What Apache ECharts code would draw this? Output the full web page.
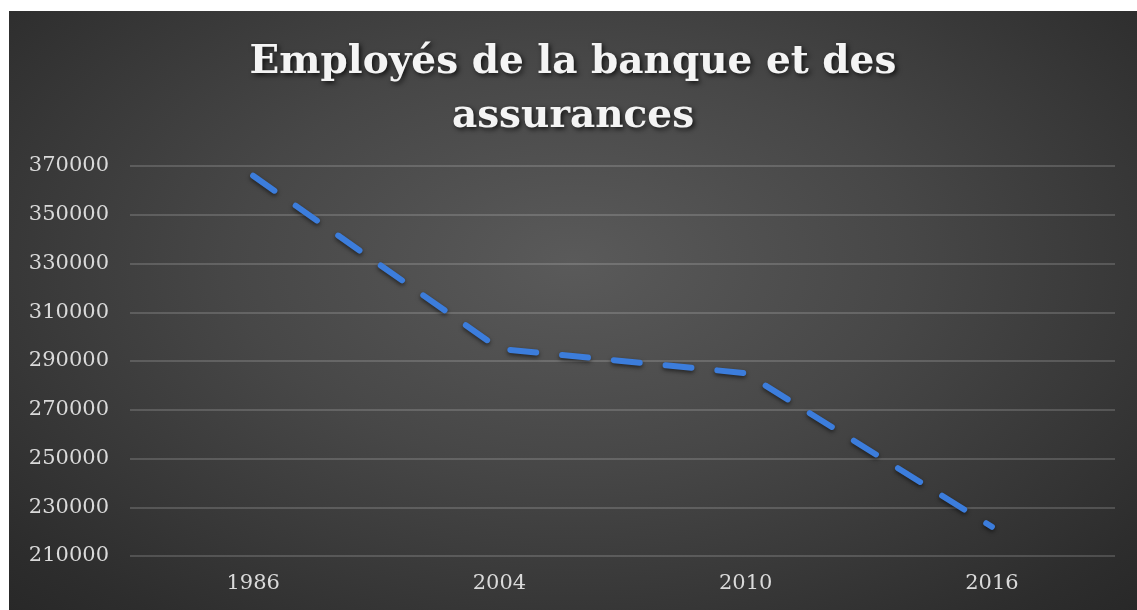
<!DOCTYPE html>
<html>
<head>
<meta charset="utf-8">
<script src="https://cdn.jsdelivr.net/npm/echarts@6/dist/echarts.min.js"></script>
<style>
  html, body { margin: 0; padding: 0; background: #ffffff; }
  #chart {
    position: absolute; left: 9px; top: 11px; width: 1128px; height: 599px;
    background: radial-gradient(ellipse 75% 85% at 50% 42%, #5a5a5a 0%, #474747 40%, #2d2d2d 85%, #262626 100%);
  }
</style>
</head>
<body>
<div id="chart"></div>
<script>
// Employees in banking and insurance, by year
const years = ['1986', '2004', '2010', '2016'];
const employees = [366000, 295000, 285000, 222000];
const yMin = 210000;
const yMax = 370000;
const yStep = 20000;
const titleText = 'Employés de la banque et des\nassurances';

const chart = echarts.init(document.getElementById('chart'));
chart.setOption({
  backgroundColor: 'transparent',
  animation: false,
  title: {
    text: titleText,
    left: 'center',
    top: 20,
    textStyle: {
      fontFamily: 'DejaVu Serif',
      fontWeight: 'bold',
      fontSize: 39,
      lineHeight: 54,
      color: '#f4f4f4',
      textShadowColor: 'rgba(0,0,0,0.75)',
      textShadowBlur: 5,
      textShadowOffsetX: 2,
      textShadowOffsetY: 2
    }
  },
  grid: { left: 121, right: 22, top: 155, bottom: 54 },
  xAxis: {
    type: 'category',
    data: years,
    boundaryGap: true,
    axisLine: { show: false },
    axisTick: { show: false },
    axisLabel: {
      margin: 17,
      fontFamily: 'DejaVu Serif',
      fontSize: 21,
      color: '#dadada'
    }
  },
  yAxis: {
    type: 'value',
    min: yMin,
    max: yMax,
    interval: yStep,
    axisLine: { show: false },
    axisTick: { show: false },
    axisLabel: {
      margin: 21,
      fontFamily: 'DejaVu Serif',
      fontSize: 21,
      color: '#dadada',
      formatter: (v) => String(v)
    },
    splitLine: {
      lineStyle: { color: 'rgba(255,255,255,0.16)', width: 2 }
    }
  },
  series: [{
    type: 'line',
    data: employees,
    symbol: 'none',
    lineStyle: {
      color: '#3c7ddc',
      width: 6,
      type: [26, 26],
      cap: 'round',
      shadowColor: 'rgba(0,0,0,0.55)',
      shadowBlur: 4,
      shadowOffsetY: 2
    }
  }]
});
</script>
</body>
</html>
